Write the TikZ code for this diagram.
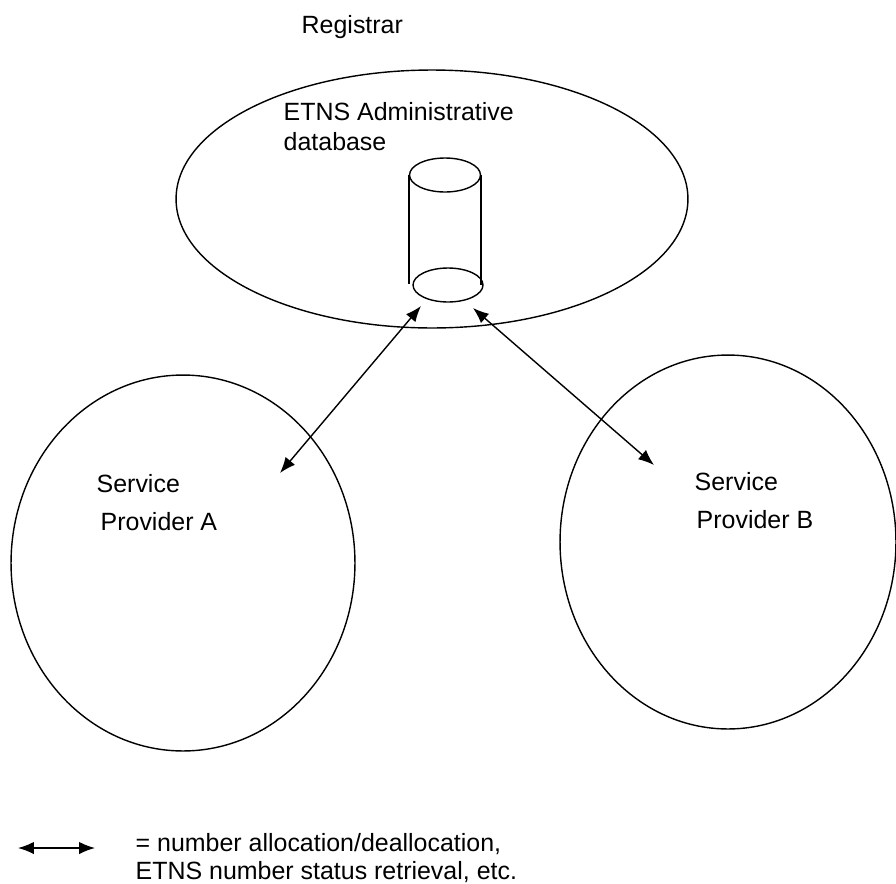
\documentclass[tikz,border=0pt]{standalone}
\usepackage{fontspec}
\setmainfont{Liberation Sans}
\usepackage{tikz}
\usetikzlibrary{positioning,shapes,arrows,arrows.meta}

\begin{document}
\begin{tikzpicture}[x=0.02cm, y=-0.02cm, line width=0.8pt,
  lbl/.style={font=\fontsize{14.2}{17}\selectfont, inner sep=0pt, anchor=base west},
  area/.style={draw, ellipse, inner sep=0pt},
  link/.style={{Latex[length=9pt,width=7pt]}-{Latex[length=9pt,width=7pt]}}]
\useasboundingbox (0,0) rectangle (896,883);
%registrar
\node[area, minimum width=10.24cm, minimum height=5.16cm] (registrar) at (432,199) {};
\node[lbl] (regname) at (301,33) {Registrar};
\node[lbl] (dbname) at (283,120) {ETNS Administrative};
\node[lbl] (dbname2) at (283,150) {database};
%database cylinder
\node[area, minimum width=1.42cm, minimum height=0.68cm] (dbtop) at (445,175) {};
\node[area, minimum width=1.4cm, minimum height=0.68cm] (dbbase) at (448,285) {};
\draw (dbtop.west) -- ++(0,109);
\draw (dbtop.east) -- ++(0,110);
%service providers
\node[area, minimum width=6.88cm, minimum height=7.52cm] (spa) at (183,563) {};
\node[area, minimum width=6.72cm, minimum height=7.48cm] (spb) at (728,542) {};
\node[lbl] (spaname) at (96,492) {Service};
\node[lbl] (spaname2) at (100,530) {Provider A};
\node[lbl] (spbname) at (694,490) {Service};
\node[lbl] (spbname2) at (696,528) {Provider B};
%links
\coordinate (la) at (421,306);
\coordinate (pa) at (280,473);
\coordinate (lb) at (473,308);
\coordinate (pb) at (654,465);
\draw[link] (la) -- (pa);
\draw[link] (lb) -- (pb);
%legend
\coordinate (keyl) at (18,848);
\coordinate (keyr) at (95,848);
\draw[link] (keyl) -- (keyr);
\node[lbl] (key) at (135,851) {= number allocation/deallocation,};
\node[lbl] (key2) at (135,879) {ETNS number status retrieval, etc.};
\end{tikzpicture}
\end{document}
